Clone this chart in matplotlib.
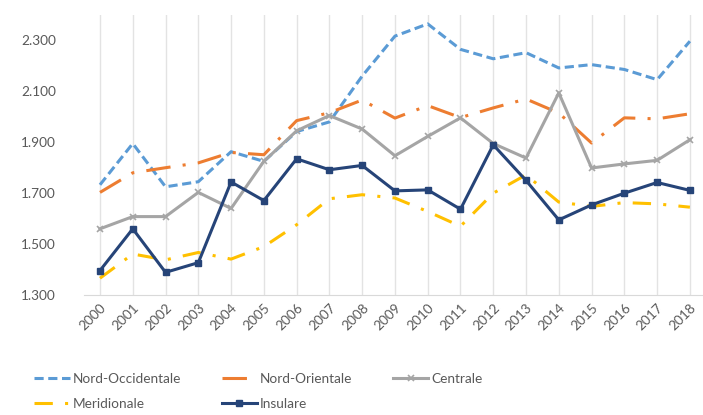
import matplotlib
matplotlib.use("Agg")
import matplotlib.pyplot as plt
from matplotlib.ticker import FuncFormatter

years = [str(y) for y in range(2000, 2019)]
nord_occ = [1733, 1895, 1725, 1745, 1863, 1825, 1942, 1980, 2160, 2317, 2365,
            2265, 2228, 2252, 2192, 2205, 2186, 2146, 2297]
nord_ori = [1703, 1780, 1800, 1819, 1860, 1851, 1985, 2016, 2066, 1995, 2044,
            1997, 2035, 2070, 2015, 1897, 1996, 1992, 2012]
centrale = [1560, 1608, 1608, 1703, 1640, 1825, 1945, 2005, 1952, 1847, 1923,
            1996, 1895, 1838, 2094, 1799, 1815, 1829, 1910]
meridionale = [1366, 1461, 1438, 1467, 1441, 1490, 1576, 1678, 1694, 1681, 1628,
               1570, 1700, 1772, 1665, 1648, 1663, 1658, 1645]
insulare = [1396, 1560, 1389, 1427, 1744, 1671, 1835, 1792, 1809, 1709, 1713,
            1637, 1890, 1750, 1595, 1654, 1700, 1742, 1711]
yticks = [1300, 1500, 1700, 1900, 2100, 2300]

plt.rcParams['font.family'] = ['Lato', 'DejaVu Sans']

fig = plt.figure(figsize=(7.03, 4.15), dpi=100)
W, H = 703, 415
left, right, top, bottom = 83.6, 703, 15, 295
ax = fig.add_axes([left / W, (H - bottom) / H, (right - left) / W, (bottom - top) / H])

x = list(range(len(years)))
lw = 2.2
h_no, = ax.plot(x, nord_occ, color='#5B9BD5', lw=lw, dashes=(3, 1.5), label='Nord-Occidentale')
h_nor, = ax.plot(x, nord_ori, color='#ED7D31', lw=lw, dashes=(8, 4, 1, 4), label='Nord-Orientale')
h_c, = ax.plot(x, centrale, color='#A5A5A5', lw=lw, marker='x', ms=5, mew=1.2, label='Centrale')
h_m, = ax.plot(x, meridionale, color='#FFC000', lw=lw, dashes=(6, 4, 1, 4), label='Meridionale')
h_i, = ax.plot(x, insulare, color='#264478', lw=lw, marker='s', ms=5, label='Insulare')

ax.set_xlim(-0.5, 18.4)
ax.set_ylim(1300, 2400)
ax.set_yticks(yticks)
ax.yaxis.set_major_formatter(FuncFormatter(lambda v, p: f"{v/1000:.3f}"))
ax.set_xticks(x)
ax.set_xticklabels(years, rotation=45, ha='right', rotation_mode='anchor')
ax.tick_params(axis='both', length=0, colors='#595959', labelsize=9.8)
ax.tick_params(axis='y', pad=20)
ax.tick_params(axis='x', pad=5)
ax.grid(axis='x', color='#E3E3E3', lw=1)
ax.set_axisbelow(True)
for s in ['top', 'right', 'left']:
    ax.spines[s].set_visible(False)
ax.spines['bottom'].set_color('#D9D9D9')

handles = [h_no, h_m, h_nor, h_i, h_c]
labels = [h.get_label() for h in handles]
leg = fig.legend(handles, labels, loc='lower left', bbox_to_anchor=(22 / W, -0.018), ncol=3,
                 frameon=False, fontsize=9.8, handlelength=2.6, handletextpad=0.2,
                 columnspacing=3.0, labelspacing=1.0)
for t in leg.get_texts():
    t.set_color('#595959')

fig.savefig('out.png', dpi=100)
